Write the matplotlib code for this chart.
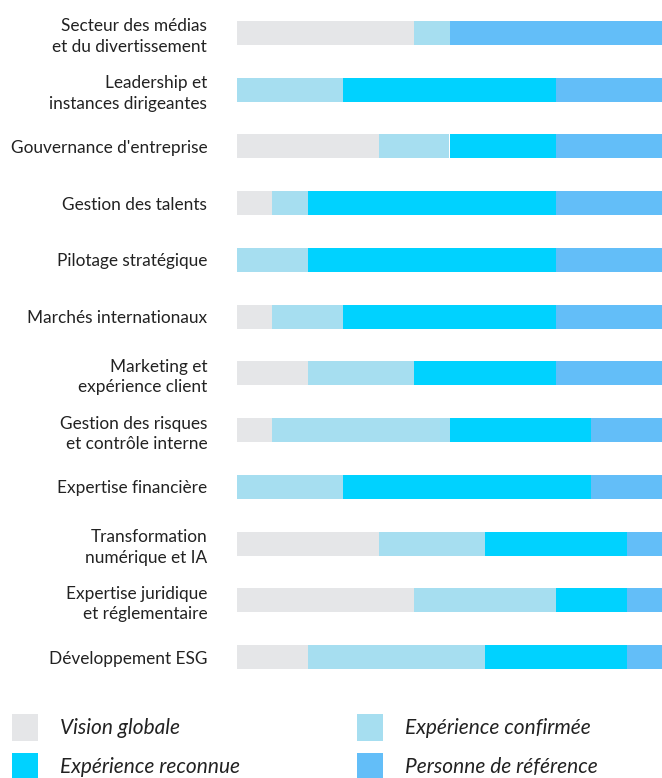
import matplotlib.pyplot as plt
from matplotlib.patches import Rectangle
import numpy as np

categories = [
    "Secteur des médias\net du divertissement",
    "Leadership et\ninstances dirigeantes",
    "Gouvernance d'entreprise",
    "Gestion des talents",
    "Pilotage stratégique",
    "Marchés internationaux",
    "Marketing et\nexpérience client",
    "Gestion des risques\net contrôle interne",
    "Expertise financière",
    "Transformation\nnumérique et IA",
    "Expertise juridique\net réglementaire",
    "Développement ESG",
]
series = ["Vision globale", "Expérience confirmée", "Expérience reconnue", "Personne de référence"]
vision = [5, 0, 4, 1, 0, 1, 2, 1, 0, 4, 5, 2]
confirmee = [1, 3, 2, 1, 2, 2, 3, 5, 3, 3, 4, 5]
reconnue = [0, 6, 3, 7, 7, 6, 4, 4, 7, 4, 2, 4]
reference = [6, 3, 3, 3, 3, 3, 3, 2, 2, 1, 1, 1]
colors = ["#e5e6e8", "#a6def0", "#00d2ff", "#63bef8"]

plt.rcParams['font.family'] = ['Lato', 'DejaVu Sans']

W, H = 662, 778
fig = plt.figure(figsize=(W / 100, H / 100), dpi=100)
ax = fig.add_axes([237 / W, 1 - 669 / H, (662 - 237) / W, (669 - 21) / H])

y = np.arange(len(categories))
h = 0.423
left = np.zeros(len(categories))
for name, vals, c in zip(series, [vision, confirmee, reconnue, reference], colors):
    ax.barh(y, vals, left=left, height=h, color=c, label=name, linewidth=0)
    left += np.array(vals)

ax.set_xlim(0, 12)
ax.set_ylim(len(categories) - 1 + h / 2, -h / 2)
ax.set_yticks(y)
ax.set_yticklabels(categories, fontsize=12.4, color="#222222", linespacing=1.35)
ax.tick_params(axis='y', length=0, pad=21.5)
ax.set_xticks([])
for s in ax.spines.values():
    s.set_visible(False)

# legend, laid out in two rows like the original
slots = [(12, 714), (357, 714), (12, 753), (357, 753)]
for (px, py), name, c in zip(slots, series, colors):
    fig.patches.append(Rectangle((px / W, 1 - (py + 27) / H), 26 / W, 27 / H,
                                 transform=fig.transFigure, color=c, linewidth=0))
    fig.text((px + 48) / W, 1 - (py + 14) / H, name, fontsize=15, style='italic',
             color="#222222", va='center', ha='left')

fig.savefig("out.png", dpi=100)
